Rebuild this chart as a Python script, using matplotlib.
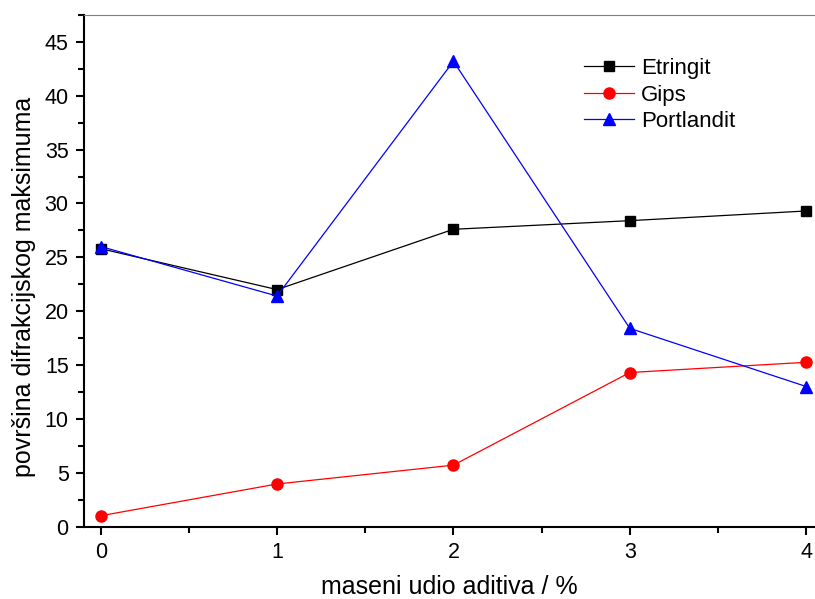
import numpy as np
import matplotlib
matplotlib.use('Agg')
import matplotlib.pyplot as plt
from matplotlib.ticker import MultipleLocator

plt.rcParams['font.family'] = ['Liberation Sans', 'DejaVu Sans']

# data
udio = [0, 1, 2, 3, 4]
etringit = [25.8, 22.0, 27.6, 28.4, 29.3]
gips = [1.0, 3.95, 5.7, 14.3, 15.25]
portlandit = [26.0, 21.4, 43.2, 18.4, 13.0]

fig = plt.figure(figsize=(8.15, 5.99), dpi=100)
ax = fig.add_axes([0.103, 0.121, 0.897, 0.854])

ax.plot(udio, etringit, color='black', lw=0.9, marker='s', ms=7, label='Etringit')
ax.plot(udio, gips, color='red', lw=0.9, marker='o', ms=8, label='Gips')
ax.plot(udio, portlandit, color='blue', lw=0.9, marker='^', ms=9, label='Portlandit')

ax.set_xlim(-0.095, 4.05)
ax.set_ylim(0, 47.5)
ax.xaxis.set_major_locator(MultipleLocator(1))
ax.xaxis.set_minor_locator(MultipleLocator(0.5))
ax.yaxis.set_major_locator(MultipleLocator(5))
ax.yaxis.set_minor_locator(MultipleLocator(2.5))
ax.tick_params(which='major', direction='out', length=6, width=1.5, labelsize=15.5)
ax.tick_params(axis='x', which='major', pad=5)
ax.tick_params(axis='y', which='major', pad=5)
ax.tick_params(which='minor', direction='out', length=4, width=1.5)

for s in ['left', 'bottom']:
    ax.spines[s].set_linewidth(1.5)
ax.spines['top'].set_color('gray')
ax.spines['right'].set_visible(False)

ax.set_xlabel('maseni udio aditiva / %', fontsize=18, labelpad=9)
ax.set_ylabel('površina difrakcijskog maksimuma', fontsize=18)
ax.yaxis.set_label_coords(-0.066, 0.468)

ax.legend(loc='upper left', bbox_to_anchor=(0.657, 0.955), frameon=False,
          fontsize=16, handlelength=2.25, labelspacing=0.25, handletextpad=0.3)

fig.savefig('out.png', dpi=100)
